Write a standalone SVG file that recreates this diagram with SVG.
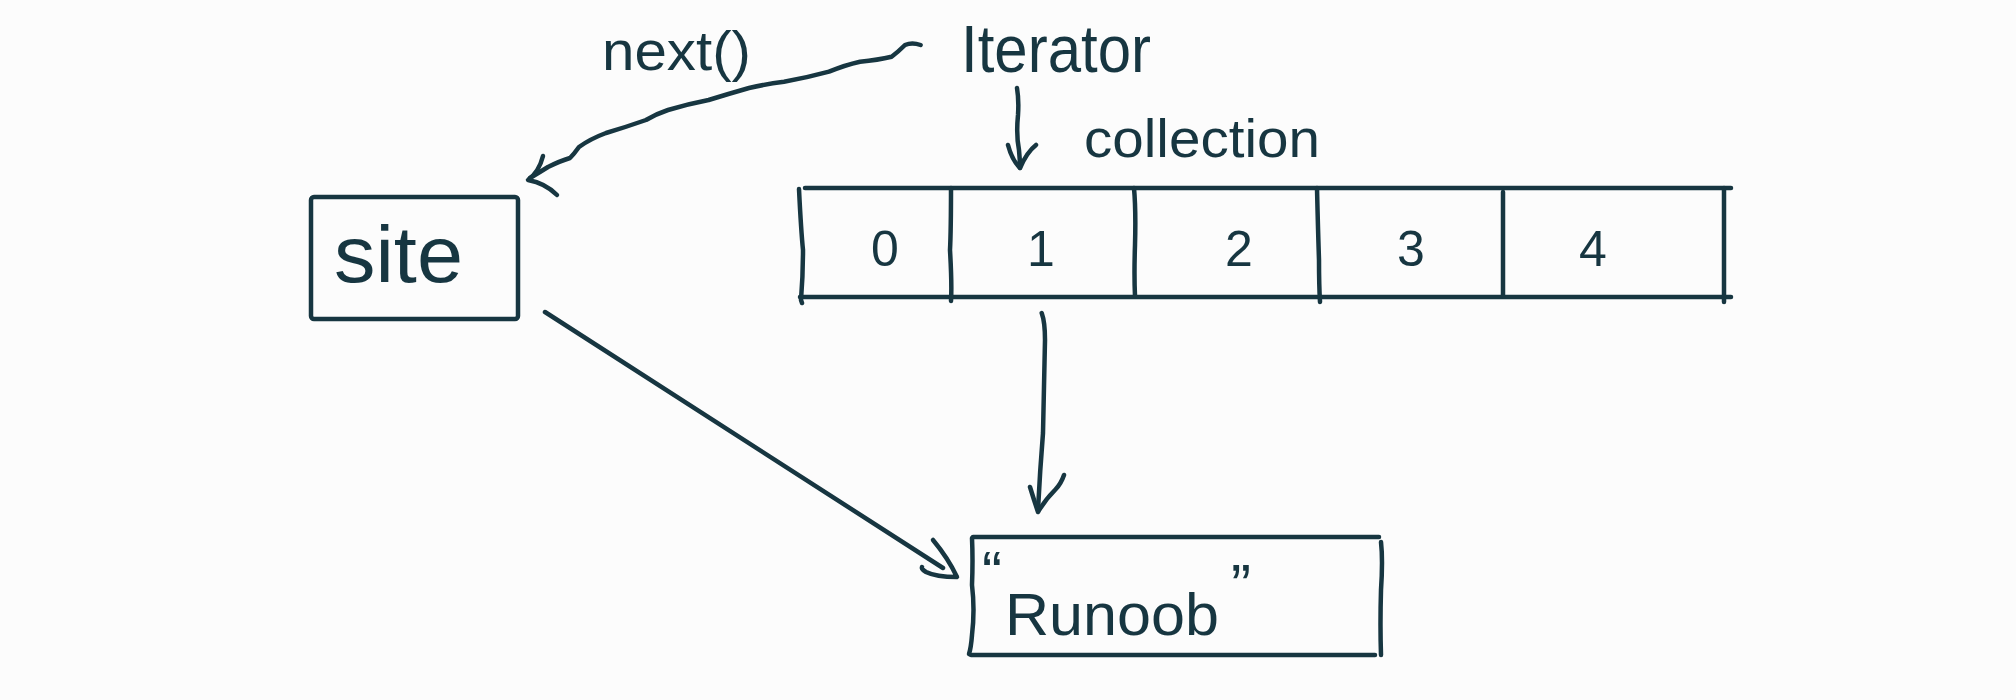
<svg xmlns="http://www.w3.org/2000/svg" width="2016" height="700" viewBox="0 0 2016 700">
<style>
.s{fill:none;stroke:#173641;stroke-width:4.5;stroke-linecap:round;stroke-linejoin:round}
.t{fill:#173641;font-family:"Liberation Sans","DejaVu Sans",sans-serif}
</style>
<rect width="2016" height="700" fill="#fcfcfc"/>
<g id="connectors">
  <g id="edge-next">
    <path class="s" d="M920.6,45 Q912,42 905,45 Q898,52 891.6,56.7 Q878,60 860,61.7 Q845,65 829,71.7 Q806,78 784,81.7 Q766,84 749,88 Q728,94 708.6,100 Q688,104 668,110 Q656,114 646,120 Q626,127 606,133 Q590,139 579,147 Q574,154 570,158 Q560,161 548,167 Q540,172 530,178"/>
    <path class="s" d="M543,156 Q539,172 528,180 Q545,183 557,195"/>
    <text class="t" x="602" y="70" font-size="56" textLength="149" lengthAdjust="spacingAndGlyphs">next()</text>
  </g>
  <g id="edge-iterator-collection">
    <path class="s" d="M1017,88 Q1019,100 1018,115 Q1016,135 1019,150 Q1020,160 1020,168"/>
    <path class="s" d="M1008,145 Q1012,160 1020,168 Q1027,152 1036,145"/>
  </g>
  <g id="edge-collection-runoob">
    <path class="s" d="M1041.7,313 Q1045,322 1045,340 Q1044,390 1043,433 Q1040,470 1038,510"/>
    <path class="s" d="M1030,487 Q1034,500 1038,512 Q1045,500 1055,490 Q1061,484 1064,475"/>
  </g>
  <g id="edge-site-runoob">
    <path class="s" d="M545,312 L943,568"/>
    <path class="s" d="M933,540 Q948,558 957,577 Q936,577 926,572 Q921,569 922,567"/>
  </g>
</g>
<g id="node-iterator">
  <text class="t" x="961" y="72" font-size="66" textLength="190" lengthAdjust="spacingAndGlyphs">Iterator</text>
</g>
<g id="node-site">
  <rect class="s" x="311" y="197" width="207" height="122" rx="3"/>
  <text class="t" x="334" y="282" font-size="80" textLength="129" lengthAdjust="spacingAndGlyphs">site</text>
</g>
<g id="node-collection">
  <text class="t" x="1084" y="157" font-size="54" textLength="236" lengthAdjust="spacingAndGlyphs">collection</text>
  <path class="s" d="M805,188 L1731,188"/>
  <path class="s" d="M800,297 L1731,297"/>
  <path class="s" d="M799,189 Q801,230 803,250 Q803,275 801,300 L802,303"/>
  <path class="s" d="M951,188 Q951,230 950,250 Q952,285 951,301"/>
  <path class="s" d="M1134,188 Q1136,210 1135,245 Q1134,275 1135,296"/>
  <path class="s" d="M1317,188 Q1318,230 1319,260 Q1319,285 1320,302"/>
  <path class="s" d="M1503,192 L1503,296"/>
  <path class="s" d="M1724,188 L1724,302"/>
  <g class="t" font-size="50" text-anchor="middle">
    <text x="885" y="266">0</text>
    <text x="1041" y="266">1</text>
    <text x="1239" y="266">2</text>
    <text x="1411" y="266">3</text>
    <text x="1593" y="266">4</text>
  </g>
</g>
<g id="node-runoob">
  <path class="s" d="M973,537 L1379,537"/>
  <path class="s" d="M1381,542 Q1383,560 1381,590 Q1380,625 1381,655"/>
  <path class="s" d="M971,655 L1375,655"/>
  <path class="s" d="M972,538 Q973,560 972,585 Q975,610 972,635 Q971,648 969,654"/>
  <text class="t" font-size="60"><tspan x="982" y="593">“</tspan><tspan x="1005" y="635" textLength="214" lengthAdjust="spacingAndGlyphs">Runoob</tspan><tspan x="1231" y="606">”</tspan></text>
</g>
</svg>
